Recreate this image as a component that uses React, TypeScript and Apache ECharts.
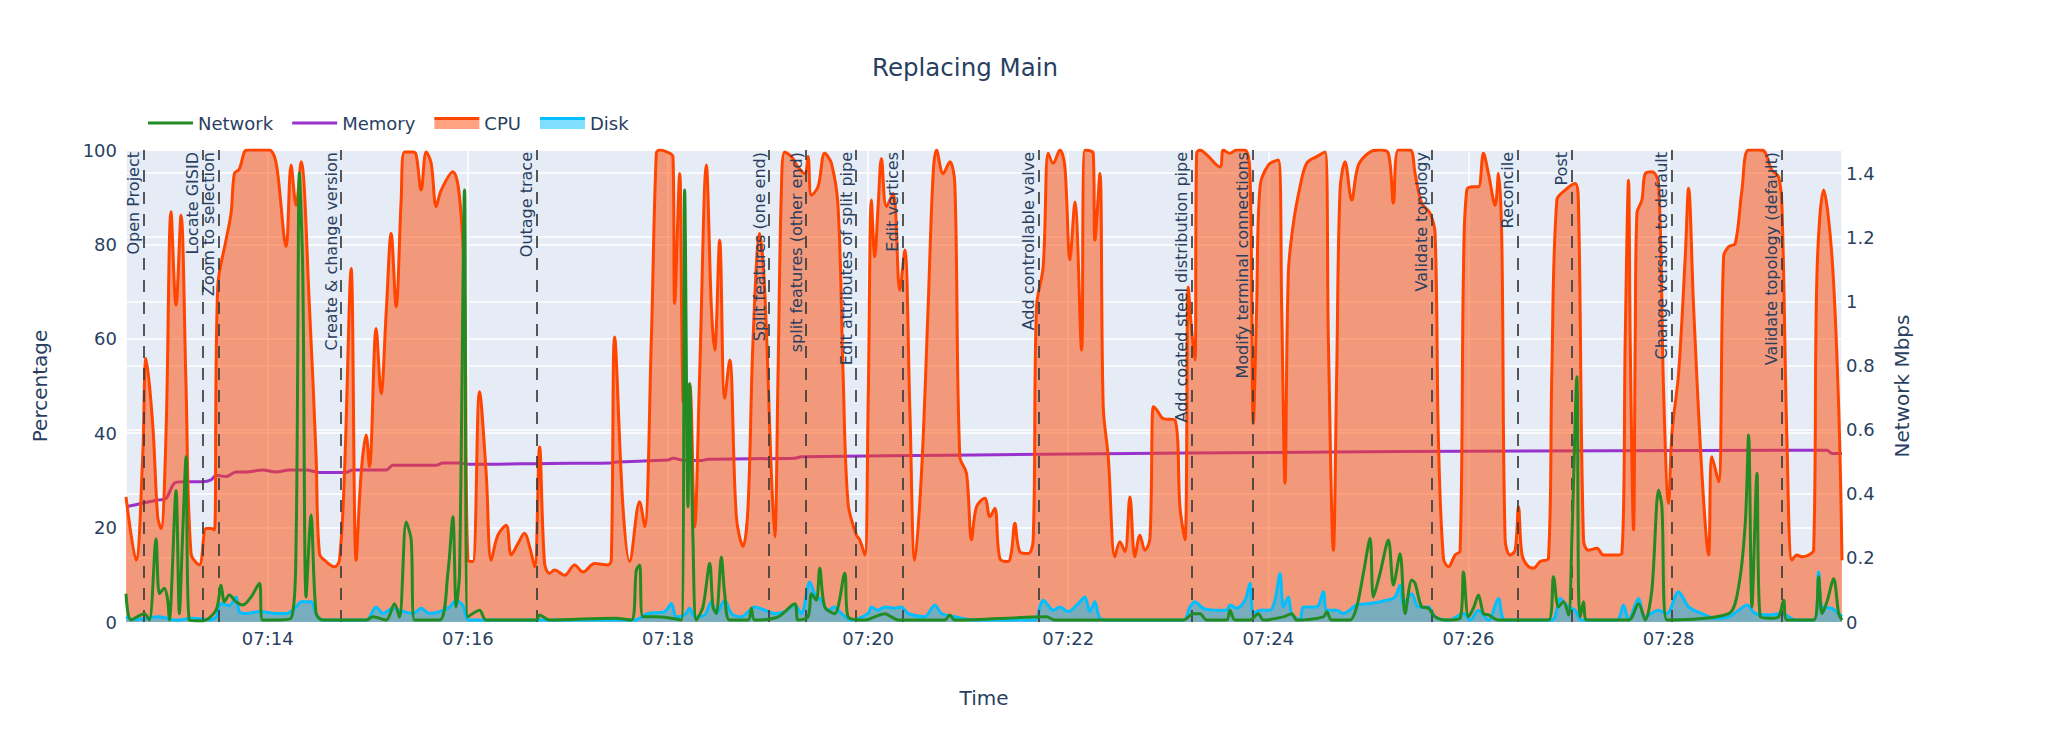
import React, { useEffect, useRef } from 'react';
import * as echarts from 'echarts';

const FONT = 'Verdana, "DejaVu Sans", sans-serif';
const TXT = '#2a3f5f';

const TITLE = 'Replacing Main';
const SERIES_NAMES = ['Network', 'Memory', 'CPU', 'Disk'];
const NET_AXIS_MAX = 1.472;

// time in seconds after 07:00:00, value
const cpu: [number, number][] = [
  [755, 26.5], [761, 13.1], [765, 35], [767, 55.8], [771, 42], [774, 22.3], [776, 19.8], [779, 40],
  [782, 86.9], [785, 67.1], [788, 86.2], [791, 50], [794, 14.5], [799, 12.1], [803, 19.8], [806, 19.8],
  [808, 19.5], [810, 71], [815, 81], [818, 86.6], [820, 95], [823, 96], [826, 99.6], [828, 100],
  [841, 100], [844, 98.6], [846, 95], [851, 79.5], [854, 96.8], [857, 88.3], [860, 97.5], [865, 66.8],
  [869, 35], [871, 14.5], [875, 12.8], [880, 11.7], [883, 13.1], [886, 31.5], [890, 74.9], [893, 13.1],
  [896, 31.5], [899, 39.6], [901, 32.9], [905, 62.2], [908, 48.4], [911, 65.4], [914, 82.3], [917, 66.8],
  [920, 89.4], [922, 99.6], [927, 99.6], [929, 99], [932, 91.5], [935, 99.6], [938, 97.2], [941, 88],
  [944, 91.5], [951, 95.4], [955, 90.1], [958, 70.3], [960, 13.1], [963, 12.8], [967, 48.8], [971, 31.5],
  [974, 13.1], [978, 18.4], [983, 20.5], [986, 14.2], [990, 16.6], [994, 18.8], [997, 16], [1000, 11.7],
  [1003, 37.1], [1006, 12.4], [1009, 10.3], [1012, 11], [1018, 9.9], [1024, 12.1], [1029, 10.6], [1036, 12.4],
  [1044, 12.1], [1046, 13.1], [1048, 60.4], [1053, 24.4], [1057, 12.8], [1063, 25.5], [1066, 20.2], [1070, 59.7],
  [1073, 99.3], [1075, 100], [1080, 99.5], [1083, 98.6], [1084, 67.5], [1087, 95], [1089, 47], [1091, 45.6],
  [1093, 50.5], [1096, 20.2], [1099, 52.7], [1103, 96.8], [1106, 66.8], [1108, 57.6], [1111, 80.9], [1114, 47.4],
  [1117, 55.5], [1121, 22.3], [1125, 16], [1128, 24.4], [1131, 59.7], [1135, 82.3], [1138, 70.3], [1142, 31.5],
  [1144, 18], [1146, 52.7], [1148, 91.5], [1150, 99.6], [1154, 98.6], [1158, 96.4], [1162, 95], [1164, 98.6],
  [1166, 90.4], [1170, 92.2], [1174, 99.3], [1178, 97.2], [1182, 88], [1185, 52.7], [1188, 25.1], [1193, 18.4],
  [1195, 17.4], [1198, 14.2], [1200, 45.6], [1202, 89.4], [1204, 77.4], [1206, 88], [1208, 98.2], [1211, 88],
  [1215, 90.8], [1219, 70.3], [1222, 78.8], [1225, 45.6], [1228, 13.1], [1232, 31.5], [1236, 66.8], [1239, 95],
  [1241, 100], [1245, 95], [1249, 97.5], [1252, 92.9], [1255, 35], [1259, 31.5], [1262, 17.4], [1265, 24.4],
  [1270, 26.2], [1273, 22.3], [1276, 24.1], [1279, 13.5], [1284, 12.8], [1286, 15], [1288, 20.9], [1291, 14.9],
  [1296, 14.5], [1299, 17.4], [1301, 66.8], [1305, 75.3], [1308, 99.3], [1311, 97.2], [1315, 100], [1318, 96.4],
  [1321, 76.7], [1324, 89], [1328, 57.6], [1330, 100], [1335, 99.3], [1336, 80.9], [1339, 95], [1341, 45.6],
  [1344, 35], [1348, 13.8], [1351, 17], [1354, 14.9], [1357, 26.5], [1360, 13.8], [1363, 18.4], [1366, 15.2],
  [1369, 17.7], [1371, 45.6], [1373, 45], [1377, 43.1], [1384, 42.8], [1387, 24.4], [1390, 17.4], [1392, 71],
  [1394, 61.8], [1396, 55.5], [1397, 99.3], [1399, 100], [1403, 99], [1411, 96.4], [1413, 100], [1417, 99.3],
  [1421, 100], [1426, 100], [1429, 95], [1431, 42], [1433, 66.8], [1435, 92.2], [1440, 96.8], [1446, 97.9],
  [1448, 66.8], [1450, 29.4], [1452, 73.9], [1455, 84.4], [1459, 92.2], [1463, 97.2], [1469, 98.6], [1474, 99.6],
  [1476, 59.7], [1479, 15.2], [1481, 52.7], [1483, 91.5], [1486, 97.5], [1490, 89.4], [1494, 96.8], [1501, 99.6],
  [1507, 100], [1512, 99.3], [1515, 88.7], [1518, 100], [1525, 100], [1528, 95], [1532, 88.7], [1537, 86.6],
  [1540, 82.3], [1542, 38.5], [1545, 13.5], [1548, 11.7], [1552, 14.2], [1555, 15], [1557, 73.9], [1559, 91.5],
  [1563, 92.2], [1566, 92.2], [1569, 99.3], [1572, 95], [1576, 88.3], [1578, 95], [1580, 80.9], [1582, 17.4],
  [1585, 14.2], [1588, 15.2], [1590, 24.4], [1592, 14.5], [1595, 12.1], [1599, 11.4], [1603, 12.8], [1608, 13.5],
  [1610, 52.7], [1613, 89.4], [1618, 91.5], [1624, 92.9], [1626, 88], [1629, 17.4], [1632, 15.2], [1637, 15.6],
  [1641, 14.2], [1648, 14.2], [1652, 14.5], [1654, 59.7], [1656, 93.6], [1657, 59.7], [1659, 19.5], [1660, 59.7],
  [1661, 86.6], [1664, 89.4], [1666, 95], [1670, 95.4], [1674, 92.9], [1677, 49.1], [1680, 25.1], [1682, 39.9],
  [1686, 52.7], [1690, 77.4], [1692, 91.9], [1695, 66.8], [1700, 31.5], [1704, 14.2], [1706, 35], [1710, 29.7],
  [1713, 77.4], [1716, 79.5], [1720, 80.2], [1724, 91.5], [1728, 100], [1736, 100], [1742, 95.7], [1746, 94.3],
  [1748, 88], [1751, 38.5], [1754, 13.1], [1757, 14.2], [1760, 13.8], [1764, 14.2], [1767, 15.2], [1769, 73.9],
  [1773, 91.5], [1778, 77.4], [1782, 45.6], [1784, 13.1],
];

const disk: [number, number][] = [
  [755, 1.1], [760, 0.5], [775, 1.1], [785, 0.4], [795, 0.8], [805, 0.5], [809, 1.1], [812, 3.9],
  [817, 3.5], [821, 5.3], [823, 2.2], [827, 1.8], [835, 2.2], [845, 1.8], [851, 1.8], [857, 3.2],
  [860, 4.3], [866, 4.3], [869, 1.8], [873, 0.4], [899, 0.4], [905, 3.2], [909, 1.8], [915, 2.9],
  [919, 2.5], [927, 1.8], [932, 2.9], [937, 1.8], [943, 2.2], [949, 3.2], [953, 4.6], [957, 3.5],
  [961, 0.4], [1009, 0.4], [1060, 0.4], [1068, 1.8], [1078, 2.2], [1082, 3.9], [1085, 1.1], [1090, 1.5],
  [1093, 2.9], [1096, 1.1], [1102, 1.5], [1106, 4.3], [1109, 1.8], [1114, 4.6], [1118, 1.8], [1124, 1.1],
  [1132, 3.2], [1138, 2.5], [1144, 1.8], [1150, 2.2], [1156, 3.6], [1160, 1.8], [1165, 8.5], [1168, 6],
  [1172, 4.6], [1176, 2.5], [1180, 3.2], [1184, 1.8], [1190, 0.4], [1200, 1.8], [1202, 3.2], [1206, 2.5],
  [1210, 3.2], [1216, 2.9], [1220, 3.2], [1224, 1.8], [1234, 1.1], [1240, 3.6], [1244, 1.8], [1252, 1.1],
  [1264, 0.4], [1300, 0.4], [1303, 3.2], [1305, 4.6], [1311, 2.5], [1315, 3.2], [1320, 2.2], [1326, 3.9],
  [1330, 5.3], [1333, 2.2], [1336, 4.3], [1339, 0.8], [1345, 0.4], [1389, 0.4], [1393, 3.2], [1396, 4.3],
  [1401, 2.9], [1409, 2.5], [1415, 2.5], [1417, 3.6], [1421, 2.9], [1426, 4.6], [1429, 8.2], [1431, 1.8],
  [1435, 2.5], [1441, 2.5], [1444, 4.6], [1447, 10.3], [1449, 3.2], [1452, 5.3], [1454, 1.8], [1459, 0.4],
  [1461, 3.2], [1469, 3.2], [1473, 6.4], [1475, 2.5], [1481, 2.5], [1485, 1.8], [1493, 3.6], [1501, 3.9],
  [1511, 4.6], [1516, 5.3], [1519, 7.8], [1521, 3.9], [1526, 6], [1530, 3.2], [1536, 3.2], [1540, 1.1],
  [1548, 0.4], [1557, 1.8], [1561, 0.4], [1566, 2.5], [1572, 0.4], [1578, 5], [1582, 0.4], [1610, 0.4],
  [1615, 5], [1620, 3.2], [1624, 2.5], [1628, 0.4], [1649, 0.4], [1653, 3.6], [1656, 0.4], [1662, 5],
  [1666, 1.1], [1674, 2.5], [1679, 1.8], [1686, 6.4], [1692, 3.2], [1700, 1.8], [1708, 0.8], [1716, 1.1],
  [1722, 2.5], [1727, 3.6], [1732, 1.8], [1740, 1.5], [1748, 1.8], [1756, 0.4], [1767, 0.4], [1770, 10.6],
  [1772, 3.2], [1778, 2.9], [1782, 1.8], [1784, 1.1],
];

const memory: [number, number][] = [
  [755, 24.4], [764, 25.1], [773, 25.8], [779, 26.2], [784, 29.4], [789, 29.7], [801, 29.7], [806, 30.1],
  [809, 31.1], [815, 30.8], [821, 31.8], [827, 31.8], [837, 32.2], [845, 31.8], [853, 32.2], [863, 32.2],
  [871, 31.7], [887, 31.7], [891, 32.2], [911, 32.2], [915, 33.2], [941, 33.2], [945, 33.7], [955, 33.7],
  [961, 33.4], [1009, 33.6], [1046, 33.7], [1049, 33.9], [1080, 34.3], [1083, 34.7], [1090, 34.2], [1100, 34.2],
  [1104, 34.5], [1156, 34.7], [1160, 35], [1264, 35.4], [1519, 36.1], [1775, 36.4], [1778, 35.7], [1784, 35.7],
];

// Mbps
const network: [number, number][] = [
  [755, 0.088], [758, 0.006], [766, 0.026], [769, 0.006], [773, 0.26], [775, 0.088], [778, 0.105], [780, 0.068],
  [781, 0.006], [785, 0.41], [787, 0.026], [789, 0.277], [791, 0.515], [793, 0.006], [801, 0.004], [809, 0.037],
  [812, 0.115], [814, 0.063], [817, 0.084], [821, 0.063], [825, 0.053], [830, 0.078], [835, 0.121], [837, 0.006],
  [845, 0.006], [854, 0.012], [857, 0.256], [859, 1.4], [861, 1.088], [863, 0.078], [866, 0.334], [869, 0.026],
  [873, 0.006], [899, 0.006], [903, 0.016], [911, 0.006], [916, 0.057], [919, 0.015], [923, 0.312], [926, 0.256],
  [928, 0.006], [943, 0.006], [948, 0.152], [951, 0.328], [953, 0.047], [955, 0.152], [958, 1.347], [960, 0.016],
  [967, 0.037], [971, 0.006], [1001, 0.006], [1003, 0.022], [1009, 0.006], [1048, 0.012], [1058, 0.006], [1061, 0.162],
  [1063, 0.178], [1065, 0.016], [1072, 0.016], [1082, 0.012], [1088, 0.006], [1090, 1.347], [1092, 0.359], [1093, 0.743],
  [1095, 0.256], [1097, 0.006], [1101, 0.047], [1105, 0.183], [1107, 0.047], [1109, 0.026], [1112, 0.203], [1114, 0.088],
  [1117, 0.006], [1128, 0.006], [1130, 0.043], [1132, 0.006], [1146, 0.016], [1156, 0.057], [1158, 0.006], [1164, 0.016],
  [1166, 0.088], [1169, 0.068], [1171, 0.168], [1174, 0.047], [1180, 0.026], [1186, 0.152], [1188, 0.016], [1198, 0.006],
  [1204, 0.016], [1210, 0.026], [1214, 0.016], [1218, 0.006], [1246, 0.006], [1249, 0.022], [1252, 0.006], [1307, 0.016],
  [1312, 0.006], [1389, 0.006], [1395, 0.026], [1399, 0.026], [1403, 0.006], [1415, 0.006], [1417, 0.037], [1420, 0.006],
  [1429, 0.006], [1434, 0.026], [1437, 0.006], [1449, 0.016], [1454, 0.026], [1457, 0.006], [1473, 0.016], [1475, 0.032],
  [1478, 0.006], [1489, 0.006], [1493, 0.047], [1497, 0.152], [1501, 0.261], [1503, 0.078], [1507, 0.152], [1512, 0.256],
  [1515, 0.115], [1519, 0.213], [1522, 0.026], [1526, 0.131], [1528, 0.121], [1532, 0.047], [1536, 0.043], [1540, 0.016],
  [1546, 0.006], [1555, 0.012], [1557, 0.156], [1560, 0.016], [1563, 0.043], [1566, 0.084], [1569, 0.026], [1572, 0.022],
  [1578, 0.006], [1608, 0.006], [1611, 0.141], [1614, 0.047], [1617, 0.063], [1620, 0.022], [1622, 0.256], [1625, 0.765],
  [1626, 0.1], [1627, 0.016], [1629, 0.063], [1631, 0.006], [1656, 0.006], [1662, 0.057], [1666, 0.006], [1670, 0.1],
  [1674, 0.412], [1676, 0.359], [1679, 0.006], [1716, 0.026], [1722, 0.11], [1726, 0.308], [1728, 0.583], [1730, 0.047],
  [1733, 0.464], [1735, 0.016], [1742, 0.012], [1746, 0.016], [1749, 0.068], [1751, 0.006], [1767, 0.006], [1770, 0.141],
  [1772, 0.026], [1775, 0.063], [1779, 0.135], [1782, 0.026], [1784, 0.006],
];

const eventNames = [
  'Open Project', 'Locate GISID', 'Zoom to selection', 'Create & change version', 'Outage trace',
  'Split features (one end)', 'split features (other end)', 'Edit attributes of split pipe', 'Edit vertices',
  'Add controllable valve', 'Add coated steel distribution pipe', 'Modify terminal connections',
  'Validate topology', 'Reconcile', 'Post', 'Change version to default', 'Validate topology (default)',
];
const eventTimes = [
  765.6, 800.8, 810.4, 884, 1001.2, 1140.6, 1162.8, 1192.8, 1220.6,
  1302.2, 1394, 1430.8, 1537.8, 1589.6, 1622, 1682, 1747.6,
];

const BASE_MS = new Date(2024, 0, 1, 7, 0, 0).getTime();
const toMs = (s: number) => BASE_MS + s * 1000;
const toData = (arr: [number, number][]) => arr.map(([t, v]) => [toMs(t), v]);

export default function App() {
  const ref = useRef<HTMLDivElement>(null);
  useEffect(() => {
    if (!ref.current) return;
    const chart = echarts.init(ref.current, undefined, { renderer: 'svg' });
    const axisText = { color: TXT, fontSize: 18, fontFamily: FONT };
    const nameText = { color: TXT, fontSize: 20, fontFamily: FONT };
    const grid = { show: true, lineStyle: { color: '#ffffff', width: 1.5 } };
    const iconGrad = (solid: string, light: string) => ({
      type: 'linear', x: 0, y: 0, x2: 0, y2: 1,
      colorStops: [
        { offset: 0, color: solid }, { offset: 0.28, color: solid },
        { offset: 0.28, color: light }, { offset: 1, color: light },
      ],
    });
    chart.setOption({
      animation: false,
      backgroundColor: '#ffffff',
      textStyle: { fontFamily: FONT },
      graphic: [
        {
          type: 'text', x: 965, y: 67, z: 10,
          style: { text: TITLE, fill: TXT, fontSize: 24.5, fontFamily: FONT, align: 'center', verticalAlign: 'middle' },
        },
      ],
      legend: {
        left: 143, top: 109, itemWidth: 45, itemHeight: 12, itemGap: 19,
        textStyle: { color: TXT, fontSize: 18, fontFamily: FONT },
        data: [
          { name: SERIES_NAMES[0], icon: 'path://M0,0H45V3H0Z', itemStyle: { color: '#228B22', borderWidth: 0 } },
          { name: SERIES_NAMES[1], icon: 'path://M0,0H45V3H0Z', itemStyle: { color: '#9932CC', borderWidth: 0 } },
          { name: SERIES_NAMES[2], icon: 'rect', itemStyle: { color: iconGrad('#FF4500', 'rgba(255,69,0,0.5)'), borderWidth: 0 } },
          { name: SERIES_NAMES[3], icon: 'rect', itemStyle: { color: iconGrad('#00BFFF', 'rgba(0,191,255,0.5)'), borderWidth: 0 } },
        ],
      },
      grid: { left: 126, right: 229, top: 150, bottom: 120, show: true, backgroundColor: '#E5ECF6', borderWidth: 0 },
      xAxis: {
        type: 'time',
        min: toMs(cpu[0][0]),
        max: toMs(cpu[cpu.length - 1][0]),
        minInterval: 150000,
        maxInterval: 150000,
        axisLine: { show: false },
        axisTick: { show: false },
        axisLabel: { ...axisText, formatter: '{HH}:{mm}', margin: 7 },
        splitLine: grid,
        name: 'Time', nameLocation: 'middle', nameGap: 66, nameTextStyle: nameText,
      },
      yAxis: [
        {
          type: 'value', min: 0, max: 100, interval: 20, position: 'left',
          axisLine: { show: false }, axisTick: { show: false },
          axisLabel: { ...axisText, margin: 9 },
          splitLine: grid,
          name: 'Percentage', nameLocation: 'middle', nameGap: 76, nameTextStyle: nameText,
        },
        {
          type: 'value', min: 0, max: NET_AXIS_MAX, interval: 0.2, position: 'right',
          axisLine: { show: false }, axisTick: { show: false },
          axisLabel: {
            ...axisText, margin: 4,
            formatter: (v: number) => (Math.abs(v / 0.2 - Math.round(v / 0.2)) < 1e-6 ? String(+v.toFixed(1)) : ''),
          },
          splitLine: grid,
          name: 'Network Mbps', nameLocation: 'middle', nameGap: 50, nameTextStyle: nameText,
        },
      ],
      series: [
        {
          name: SERIES_NAMES[1], type: 'line', yAxisIndex: 0, data: toData(memory), z: 2,
          symbol: 'none', showSymbol: false, smooth: 0.3,
          lineStyle: { color: '#9932CC', width: 3 }, itemStyle: { color: '#9932CC' },
        },
        {
          name: SERIES_NAMES[2], type: 'line', yAxisIndex: 0, data: toData(cpu), z: 3,
          symbol: 'none', showSymbol: false, smooth: 0.35,
          lineStyle: { color: '#FF4500', width: 3 }, itemStyle: { color: '#FF4500' },
          areaStyle: { color: 'rgba(255,69,0,0.5)', opacity: 1 },
        },
        {
          name: SERIES_NAMES[3], type: 'line', yAxisIndex: 0, data: toData(disk), z: 4,
          symbol: 'none', showSymbol: false, smooth: 0.3,
          lineStyle: { color: '#00BFFF', width: 3 }, itemStyle: { color: '#00BFFF' },
          areaStyle: { color: 'rgba(0,191,255,0.5)', opacity: 1 },
        },
        {
          name: SERIES_NAMES[0], type: 'line', yAxisIndex: 1, data: toData(network), z: 5,
          symbol: 'none', showSymbol: false, smooth: 0.3,
          lineStyle: { color: '#228B22', width: 3 }, itemStyle: { color: '#228B22' },
          markLine: {
            silent: true,
            symbol: ['none', 'none'],
            lineStyle: { color: 'rgba(60,60,60,0.85)', width: 2, type: [12, 10] },
            label: {
              show: true, position: 'insideEndTop', formatter: '{b}', color: TXT,
              fontSize: 16, fontFamily: FONT, distance: 2,
            },
            emphasis: { disabled: true },
            data: eventNames.map((name, i) => ({ name, xAxis: toMs(eventTimes[i]) })),
          },
        },
      ],
    });
    return () => chart.dispose();
  }, []);
  return (
    <div
      ref={ref}
      style={{ position: 'absolute', left: 0, top: 0, width: 2071, height: 742, background: '#fff' }}
    />
  );
}
